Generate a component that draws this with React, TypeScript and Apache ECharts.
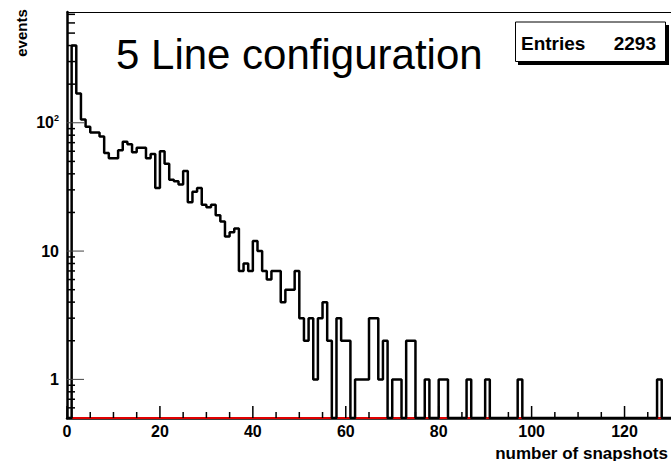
import React, { useEffect, useRef } from "react";
import * as echarts from "echarts";

// histogram: bin k covers [k, k+1) snapshots
const binCounts = [
  0, 400, 169, 106, 93, 84, 84, 78, 58, 53,
  53, 61, 71, 68, 59, 64, 64, 53, 57, 31,
  60, 48, 36, 35, 33, 42, 24, 29, 31, 23,
  22, 23, 19, 17, 13, 14, 15, 7, 8, 7,
  12, 10, 7, 6, 7, 7, 4, 5, 5, 7,
  3, 2, 3, 1, 3, 4, 2, 0, 3, 2,
  2, 0, 1, 1, 1, 3, 3, 1, 2, 0,
  1, 1, 0, 2, 2, 0, 0, 1, 0, 0,
  1, 1, 0, 0, 0, 0, 1, 0, 0, 0,
  1, 0, 0, 0, 0, 0, 0, 1, 0, 0,
  0, 0, 0, 0, 0, 0, 0, 0, 0, 0,
  0, 0, 0, 0, 0, 0, 0, 0, 0, 0,
  0, 0, 0, 0, 0, 0, 0, 1, 0, 0,
];

const X_MIN = 0;
const X_MAX = 130;
const Y_MIN = 0.5;
const Y_MAX = 730;

const xMajorTicks = [0, 20, 40, 60, 80, 100, 120];
const xMinorTicks = [5, 10, 15, 25, 30, 35, 45, 50, 55, 65, 70, 75, 85, 90, 95, 105, 110, 115, 125];
const yMajorTicks = [1, 10, 100];
const yMinorTicks = [
  0.6, 0.7, 0.8, 0.9, 2, 3, 4, 5, 6, 7, 8, 9,
  20, 30, 40, 50, 60, 70, 80, 90, 200, 300, 400, 500, 600, 700,
];

const titleText = "5 Line configuration";
const statsLabel = "Entries";
const statsValue = "2293";
const xTitle = "number of snapshots";
const yTitle = "events";

const FONT = "Liberation Sans";

export default function App() {
  const ref = useRef<HTMLDivElement>(null);

  useEffect(() => {
    if (!ref.current) return;
    const chart = echarts.init(ref.current, undefined, { renderer: "svg" });

    const histData: number[][] = [];
    binCounts.forEach((c, k) => {
      const v = c > 0 ? c : Y_MIN;
      histData.push([k, v], [k + 1, v]);
    });

    const yLabelFmt = (v: number) => {
      const e = Math.round(Math.log10(v));
      if (e >= 2) return `{b|10}{s|${e}}`;
      return `{b|${Math.round(v)}}`;
    };

    chart.setOption({
      animation: false,
      grid: { left: 67, right: 0, top: 12, bottom: 43 },
      xAxis: [
        {
          type: "value",
          min: X_MIN,
          max: X_MAX,
          axisLine: { show: true, lineStyle: { color: "#000", width: 2.5 } },
          axisTick: { show: false },
          axisLabel: {
            customValues: xMajorTicks,
            fontFamily: FONT,
            fontWeight: "bold",
            fontSize: 16,
            color: "#000",
            margin: 5,
          },
          splitLine: { show: false },
        },
        {
          type: "value",
          min: X_MIN,
          max: X_MAX,
          position: "top",
          axisLine: { show: true, lineStyle: { color: "#000", width: 1 } },
          axisTick: { show: false },
          axisLabel: { show: false },
          splitLine: { show: false },
        },
      ],
      yAxis: {
        type: "log",
        min: Y_MIN,
        max: Y_MAX,
        axisLine: { show: true, lineStyle: { color: "#000", width: 2.5 } },
        axisTick: { show: false },
        axisLabel: {
          customValues: yMajorTicks,
          formatter: yLabelFmt,
          margin: 8,
          rich: {
            b: { fontFamily: FONT, fontWeight: "bold", fontSize: 16, color: "#000" },
            s: {
              fontFamily: FONT,
              fontWeight: "bold",
              fontSize: 9,
              color: "#000",
              padding: [0, 0, 9, 0],
            },
          },
        },
        splitLine: { show: false },
      },
      series: [
        {
          type: "line",
          xAxisIndex: 0,
          data: [
            [X_MIN, Y_MIN],
            [X_MAX, Y_MIN],
          ],
          symbol: "none",
          lineStyle: { color: "#e00000", width: 2 },
          z: 2,
        },
        {
          type: "line",
          xAxisIndex: 0,
          data: histData,
          symbol: "none",
          lineStyle: { color: "#000", width: 2.5 },
          z: 3,
        },
      ],
    });

    // tick marks placed through the chart's own scales
    const toPx = (x: number, y: number) =>
      chart.convertToPixel({ gridIndex: 0 }, [x, y]) as number[];
    const tickLines: any[] = [];
    const addX = (vals: number[], len: number, w: number, color: string) =>
      vals.forEach((v) => {
        const p = toPx(v, Y_MIN);
        if (!p || isNaN(p[0])) return;
        tickLines.push({
          type: "line",
          shape: { x1: p[0], y1: p[1], x2: p[0], y2: p[1] - len },
          style: { stroke: color, lineWidth: w },
          z: 20,
          silent: true,
        });
      });
    const addY = (vals: number[], len: number, w: number, color: string) =>
      vals.forEach((v) => {
        const p = toPx(X_MIN, v);
        if (!p || isNaN(p[1])) return;
        tickLines.push({
          type: "line",
          shape: { x1: p[0], y1: p[1], x2: p[0] + len, y2: p[1] },
          style: { stroke: color, lineWidth: w },
          z: 20,
          silent: true,
        });
      });
    addX(xMajorTicks, 12, 1.5, "#000");
    addX(xMinorTicks, 6, 1.5, "#000");
    addY(yMajorTicks, 17, 1, "#444");
    addY(yMinorTicks, 8, 1.5, "#000");

    chart.setOption({
      graphic: [
        {
          type: "text",
          left: 116,
          top: 33,
          style: {
            text: titleText,
            font: `42px ${FONT}`,
            fill: "#000",
          },
        },
        {
          type: "rect",
          shape: { x: 518, y: 25, width: 151, height: 40 },
          style: { fill: "#000" },
          z: 10,
        },
        {
          type: "rect",
          shape: { x: 515.5, y: 22, width: 150, height: 39.5 },
          style: { fill: "#fff", stroke: "#000", lineWidth: 1 },
          z: 11,
        },
        {
          type: "text",
          x: 521,
          y: 43,
          style: {
            text: statsLabel,
            font: `bold 19px ${FONT}`,
            fill: "#000",
            align: "left",
            verticalAlign: "middle",
          },
          z: 12,
        },
        {
          type: "text",
          x: 656,
          y: 43,
          style: {
            text: statsValue,
            font: `bold 19px ${FONT}`,
            fill: "#000",
            align: "right",
            verticalAlign: "middle",
          },
          z: 12,
        },
        {
          type: "text",
          x: 21,
          y: 33,
          rotation: Math.PI / 2,
          style: {
            text: yTitle,
            font: `bold 15px ${FONT}`,
            fill: "#000",
            align: "center",
            verticalAlign: "middle",
          },
        },
        {
          type: "text",
          x: 668,
          y: 453,
          style: {
            text: xTitle,
            font: `bold 17px ${FONT}`,
            fill: "#000",
            align: "right",
            verticalAlign: "middle",
          },
        },
        ...tickLines,
      ],
    });

    return () => chart.dispose();
  }, []);

  return (
    <div
      ref={ref}
      style={{ position: "absolute", left: 0, top: 0, width: 671, height: 461 }}
    />
  );
}
